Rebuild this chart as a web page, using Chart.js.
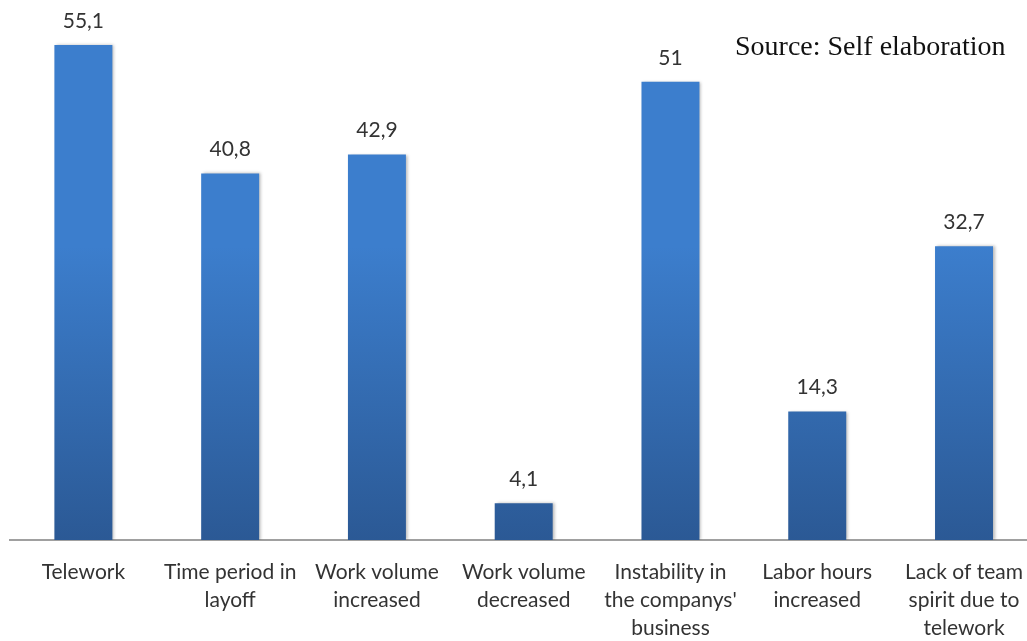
<!DOCTYPE html>
<html>
<head>
<meta charset="utf-8">
<script src="https://cdn.jsdelivr.net/npm/chart.js@4/dist/chart.umd.min.js"></script>
<style>
  html, body { margin: 0; padding: 0; background: #fff; overflow: hidden; }
  #wrap { position: relative; width: 1041px; height: 641px; }
</style>
</head>
<body>
<div id="wrap"><canvas id="c" width="1041" height="641"></canvas></div>
<script>
// Categories (multi-line tick labels) and percentages
const categories = [
  'Telework',
  ['Time period in', 'layoff'],
  ['Work volume', 'increased'],
  ['Work volume', 'decreased'],
  ['Instability in', "the companys'", 'business'],
  ['Labor hours', 'increased'],
  ['Lack of team', 'spirit due to', 'telework']
];
const values = [55.1, 40.8, 42.9, 4.1, 51, 14.3, 32.7];
const valueLabels = ['55,1', '40,8', '42,9', '4,1', '51', '14,3', '32,7'];
const sourceNote = 'Source: Self elaboration';

const LABEL_FONT = 'Lato, "DejaVu Sans", sans-serif';

// Give every bar its own top-to-bottom blue gradient once its geometry is known
const barGradient = {
  id: 'barGradient',
  beforeDatasetsDraw(chart) {
    const ctx = chart.ctx;
    chart.getDatasetMeta(0).data.forEach(bar => {
      const g = ctx.createLinearGradient(0, bar.y, 0, bar.base);
      g.addColorStop(0, '#3c7ecd');
      g.addColorStop(1, '#2b5995');
      bar.options.backgroundColor = g;
    });
  }
};

// Soft shadow on the bars
const barShadow = {
  id: 'barShadow',
  beforeDatasetDraw(chart) {
    const ctx = chart.ctx;
    ctx.save();
    ctx.shadowColor = 'rgba(0,0,0,0.28)';
    ctx.shadowBlur = 3;
    ctx.shadowOffsetX = 2;
    ctx.shadowOffsetY = 0;
  },
  afterDatasetDraw(chart) {
    chart.ctx.restore();
  }
};

// Value text above each bar
const valueText = {
  id: 'valueText',
  afterDatasetsDraw(chart) {
    const ctx = chart.ctx;
    const meta = chart.getDatasetMeta(0);
    ctx.save();
    ctx.font = '21px ' + LABEL_FONT;
    ctx.fillStyle = '#333';
    ctx.textAlign = 'center';
    ctx.textBaseline = 'middle';
    meta.data.forEach((bar, i) => {
      ctx.fillText(valueLabels[i], bar.x, bar.y - 24);
    });
    ctx.restore();
  }
};

// Source note in the upper right
const sourceText = {
  id: 'sourceText',
  afterDraw(chart) {
    const ctx = chart.ctx;
    ctx.save();
    ctx.font = '28px "Liberation Serif", "Times New Roman", serif';
    ctx.fillStyle = '#111';
    ctx.textAlign = 'left';
    ctx.textBaseline = 'alphabetic';
    ctx.fillText(sourceNote, 735, 55);
    ctx.restore();
  }
};

new Chart(document.getElementById('c'), {
  type: 'bar',
  data: {
    labels: categories,
    datasets: [{
      data: values,
      backgroundColor: '#3a7cc9',
      borderWidth: 0,
      categoryPercentage: 1,
      barPercentage: 0.395
    }]
  },
  options: {
    responsive: false,
    animation: false,
    layout: { padding: { top: 1, left: 10, right: 0, bottom: 0 } },
    plugins: {
      legend: { display: false },
      tooltip: { enabled: false },
      title: { display: false }
    },
    scales: {
      x: {
        grid: { display: false, drawTicks: false },
        border: { display: true, color: '#a0a0a0', width: 2 },
        ticks: {
          color: '#333',
          font: { family: LABEL_FONT, size: 21, lineHeight: 1.33 },
          padding: 18,
          maxRotation: 0,
          autoSkip: false
        },
        afterFit(scale) { scale.height = 101; }
      },
      y: {
        display: false,
        min: 0,
        max: 60
      }
    }
  },
  plugins: [barGradient, barShadow, valueText, sourceText]
});
</script>
</body>
</html>
